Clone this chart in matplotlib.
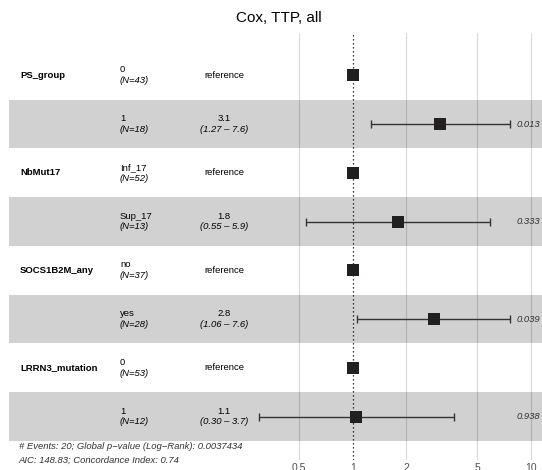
import matplotlib
matplotlib.use("Agg")
import matplotlib.pyplot as plt
import numpy as np

plt.rcParams["font.family"] = ["Liberation Sans", "DejaVu Sans"]

# Данные модели Кокса
variables = ["PS_group", "NbMut17", "SOCS1B2M_any", "LRRN3_mutation"]
levels = ["0", "1", "Inf_17", "Sup_17", "no", "yes", "0", "1"]
n_obs = [43, 18, 52, 13, 37, 28, 53, 12]
hr = [1, 3.1, 1, 1.8, 1, 2.84, 1, 1.05]
ci_low = [np.nan, 1.27, np.nan, 0.55, np.nan, 1.06, np.nan, 0.30]
ci_high = [np.nan, 7.6, np.nan, 5.9, np.nan, 7.6, np.nan, 3.7]
hr_labels = ["reference", "3.1", "reference", "1.8", "reference", "2.8", "reference", "1.1"]
ci_labels = ["", "(1.27 – 7.6)", "", "(0.55 – 5.9)", "", "(1.06 – 7.6)", "", "(0.30 – 3.7)"]
p_labels = ["", "0.013", "", "0.333", "", "0.039", "", "0.938"]
ticks = [0.5, 1, 2, 5, 10]
footer = ["# Events: 20; Global p−value (Log−Rank): 0.0037434",
          "AIC: 148.83; Concordance Index: 0.74"]

rows = np.arange(1, len(levels) + 1)

W, H = 542, 470
fig = plt.figure(figsize=(W / 100, H / 100), dpi=100)
ax = fig.add_axes([0, 10 / H, 1, (460 - 33.3) / H])
ax.set_xscale("log")
ax.set_xlim(0.01052, 11.53)
ax.set_ylim(8.892, 0.139)

fs = 6.8
# позиции колонок (в единицах оси)
x_var, x_lev, x_est, x_p, x_band = 0.0136, 0.0495, 0.19, 8.29, 0.01186

# полосы
for r in rows:
    if r % 2 == 0:
        ax.fill_between([x_band, 20], r - 0.5, r + 0.5, color="black",
                        alpha=0.18, lw=0, zorder=1)

# сетка и линия HR = 1
for t in ticks:
    if t != 1:
        ax.axvline(t, color="#d9d9d9", lw=0.8, zorder=0)
ax.axvline(1, color="black", lw=0.9, linestyle=(0, (1, 2.2)), zorder=2)

# доверительные интервалы и квадраты
lo = np.array(hr) - np.array(ci_low)
hi = np.array(ci_high) - np.array(hr)
ax.errorbar(hr, rows, xerr=[lo, hi], fmt="none", ecolor="#333333",
            elinewidth=1.0, capsize=3, capthick=1.0, zorder=3)
ax.plot(hr, rows, "s", color="#231f20", markersize=8.9, mew=0, zorder=4)

# текст
for i, var in enumerate(variables):
    ax.text(x_var, rows[2 * i], var, fontweight="bold", fontsize=fs,
            ha="left", va="center")

for i, r in enumerate(rows):
    ax.text(x_lev, r - 0.02, levels[i], fontsize=fs, ha="left", va="bottom")
    ax.text(x_lev, r + 0.02, f"(N={n_obs[i]})", fontsize=fs, style="italic",
            ha="left", va="top")
    if hr_labels[i] == "reference":
        ax.text(x_est, r, "reference", fontsize=fs, ha="center", va="center")
    else:
        ax.text(x_est, r - 0.02, hr_labels[i], fontsize=fs, ha="center", va="bottom")
        ax.text(x_est, r + 0.02, ci_labels[i], fontsize=fs, style="italic",
                ha="center", va="top")
    if p_labels[i]:
        ax.text(x_p, r, p_labels[i], fontsize=fs, style="italic",
                ha="left", va="center", color="#333333")

ax.text(x_var * 0.988, 8.605, footer[0], fontsize=fs, style="italic",
        ha="left", va="center", color="#333333")
ax.text(x_var * 0.988, 8.89, footer[1], fontsize=fs, style="italic",
        ha="left", va="center", color="#333333")

ax.set_xticks(ticks)
ax.set_xticklabels([f"{t:g}" for t in ticks])
ax.xaxis.set_minor_locator(matplotlib.ticker.NullLocator())
ax.tick_params(axis="x", length=0, pad=2.5, labelsize=7.5, labelcolor="#4d4d4d")
ax.set_yticks([])
for s in ax.spines.values():
    s.set_visible(False)

fig.text(279 / W, 1 - 18 / H, "Cox, TTP, all", fontsize=11, ha="center",
         va="center")

fig.savefig("out.png", dpi=100)
